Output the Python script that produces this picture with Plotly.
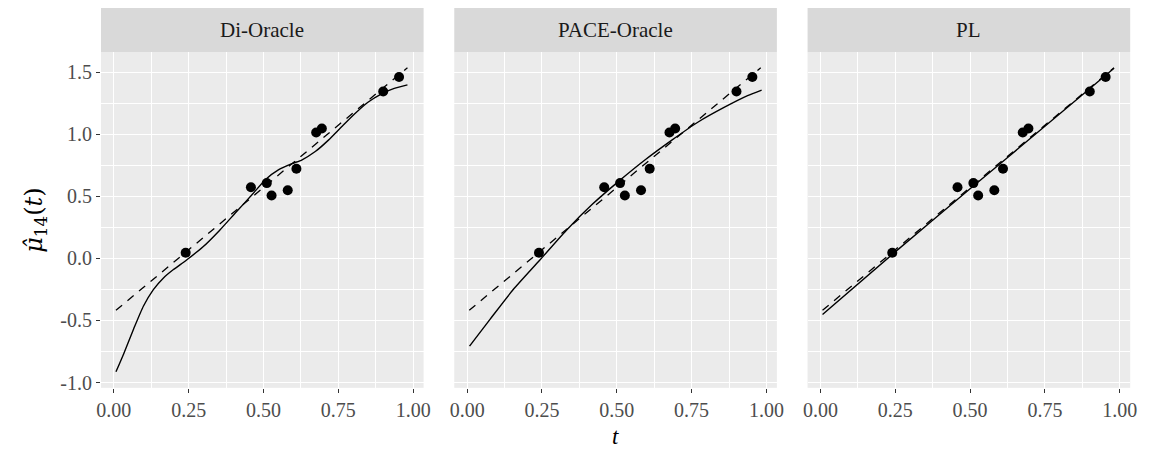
import plotly.graph_objects as go

# Observed measurements for subject 14
t_obs = [0.240, 0.458, 0.511, 0.527, 0.581, 0.610, 0.676, 0.695, 0.900, 0.953]
y_obs = [0.045, 0.572, 0.606, 0.506, 0.548, 0.722, 1.013, 1.045, 1.344, 1.460]

# True mean function (dashed)
t_true = [0.007, 0.981]
mu_true = [-0.418, 1.535]

# Estimated mean curves (solid)
t_di = [0.007, 0.033, 0.066, 0.099, 0.132, 0.165, 0.198, 0.243, 0.298, 0.353, 0.408,
        0.463, 0.507, 0.551, 0.595, 0.629, 0.673, 0.717, 0.761, 0.805, 0.849, 0.893,
        0.937, 0.981]
mu_di = [-0.913, -0.767, -0.568, -0.383, -0.251, -0.159, -0.092, -0.013, 0.093, 0.225,
         0.371, 0.516, 0.635, 0.714, 0.762, 0.794, 0.860, 0.952, 1.059, 1.164, 1.257,
         1.323, 1.368, 1.397]

t_pace = [0.008, 0.077, 0.154, 0.243, 0.331, 0.419, 0.507, 0.595, 0.684, 0.772, 0.860,
          0.937, 0.984]
mu_pace = [-0.706, -0.489, -0.251, -0.013, 0.225, 0.437, 0.622, 0.794, 0.952, 1.098,
           1.217, 1.310, 1.355]

t_pl = [0.007, 0.240, 0.500, 0.750, 0.981]
mu_pl = [-0.452, 0.032, 0.560, 1.063, 1.531]

panels = ["Di-Oracle", "PACE-Oracle", "PL"]
fits = [(t_di, mu_di), (t_pace, mu_pace), (t_pl, mu_pl)]

x_ticks = [0, 0.25, 0.5, 0.75, 1.0]
x_tick_text = ["0.00", "0.25", "0.50", "0.75", "1.00"]
y_ticks = [-1.0, -0.5, 0.0, 0.5, 1.0, 1.5]
y_tick_text = ["-1.0", "-0.5", "0.0", "0.5", "1.0", "1.5"]

W, H = 1155, 455
FONT = "Liberation Serif"
panel_px = [(97, 423), (454, 780), (811, 1137)]
y_top, y_bot, strip_top = 53, 393, 8
ydom = [(H - y_bot) / H, (H - y_top) / H]

fig = go.Figure()
for i, (name, (tf, mf)) in enumerate(zip(panels, fits)):
    sfx = "" if i == 0 else str(i + 1)
    xa, ya = "x" + sfx, "y" + sfx
    fig.add_trace(go.Scatter(x=t_true, y=mu_true, mode="lines", xaxis=xa, yaxis=ya,
                             line=dict(color="black", width=1.3, dash="8px,7px"),
                             showlegend=False, hoverinfo="skip"))
    fig.add_trace(go.Scatter(x=tf, y=mf, mode="lines", xaxis=xa, yaxis=ya,
                             line=dict(color="black", width=1.4, shape="spline",
                                       smoothing=0.6),
                             showlegend=False))
    fig.add_trace(go.Scatter(x=t_obs, y=y_obs, mode="markers", xaxis=xa, yaxis=ya,
                             marker=dict(color="black", size=10),
                             showlegend=False))

    x0, x1 = panel_px[i]
    grid = dict(gridcolor="white", gridwidth=1.1, zeroline=False, showline=False,
                ticks="outside", ticklen=4, tickcolor="#333333", tickwidth=1,
                tickfont=dict(family=FONT, size=20, color="#4D4D4D"))
    fig.update_layout(**{
        "xaxis" + sfx: dict(domain=[x0 / W, x1 / W], range=[-0.043, 1.035],
                            anchor=ya, tickvals=x_ticks, ticktext=x_tick_text,
                            minor=dict(dtick=0.125, tick0=0.125, showgrid=True,
                                       gridcolor="white", gridwidth=0.5, ticks=""),
                            **grid),
        "yaxis" + sfx: dict(domain=ydom, range=[-1.042, 1.659], anchor=xa,
                            tickvals=y_ticks, ticktext=y_tick_text,
                            showticklabels=(i == 0),
                            minor=dict(dtick=0.25, tick0=0.25, showgrid=True,
                                       gridcolor="white", gridwidth=0.5, ticks=""),
                            **{**grid, "ticks": "outside" if i == 0 else ""}),
    })
    # strip header
    fig.add_shape(type="rect", xref="paper", yref="paper",
                  x0=x0 / W, x1=x1 / W, y0=(H - y_top) / H, y1=(H - strip_top) / H,
                  fillcolor="#D9D9D9", line=dict(width=0), layer="below")
    fig.add_annotation(text=name, xref="paper", yref="paper",
                       x=(x0 + x1) / 2 / W, y=(H - (y_top + strip_top) / 2) / H,
                       showarrow=False, font=dict(family=FONT, size=21, color="#1A1A1A"),
                       xanchor="center", yanchor="middle")

# axis titles
fig.add_annotation(text="<i>t</i>", xref="paper", yref="paper",
                   x=(454 + 780) / 2 / W, y=(H - 442) / H, showarrow=False,
                   font=dict(family=FONT, size=23, color="black"),
                   xanchor="center", yanchor="middle")
fig.add_annotation(text="<i>μ̂</i><sub>14</sub>(<i>t</i>)", xref="paper", yref="paper",
                   x=30 / W, y=(H - (y_top + y_bot) / 2) / H, showarrow=False,
                   textangle=-90, font=dict(family="DejaVu Serif", size=24, color="black"),
                   xanchor="center", yanchor="middle")

fig.update_layout(width=W, height=H, margin=dict(l=0, r=0, t=0, b=0),
                  paper_bgcolor="white", plot_bgcolor="#EBEBEB",
                  font=dict(family=FONT))
fig.write_html("out.html")
